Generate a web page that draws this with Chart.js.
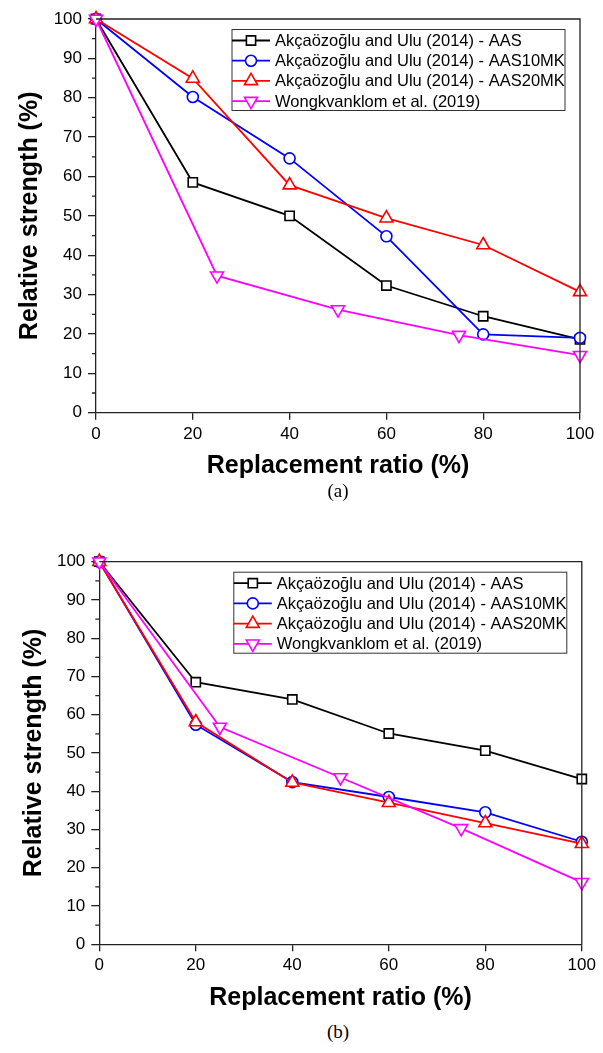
<!DOCTYPE html>
<html>
<head>
<meta charset="utf-8">
<script src="https://cdn.jsdelivr.net/npm/chart.js@4.4.1/dist/chart.umd.min.js"></script>
<style>
  body { margin:0; width:603px; height:1053px; position:relative; background:#fff; overflow:hidden; }
  canvas { position:absolute; left:0; }
  .cap { position:absolute; left:238px; width:200px; text-align:center; font-family:"Liberation Serif", serif; font-size:19px; line-height:22px; color:#000; }
</style>
</head>
<body>
<canvas id="chartA" width="603" height="482" style="top:0px"></canvas>
<div class="cap" style="top:480px">(a)</div>
<canvas id="chartB" width="603" height="494" style="top:520px"></canvas>
<div class="cap" style="top:1021px">(b)</div>
<script>
// labels
const seriesNames = ["Akçaözoğlu and Ulu (2014) - AAS", "Akçaözoğlu and Ulu (2014) - AAS10MK", "Akçaözoğlu and Ulu (2014) - AAS20MK", "Wongkvanklom et al. (2019)"]
const xTitle = "Replacement ratio (%)"
const yTitle = "Relative strength (%)"

// replacement ratios (x)
const ratioAkc = [0, 20, 40, 60, 80, 100]
const ratioWong = [0, 25, 50, 75, 100]

// (a)
const aAAS = [100, 58.5, 50, 32.3, 24.5, 18.6]
const aAAS10MK = [100, 80.2, 64.6, 44.8, 19.9, 19.0]
const aAAS20MK = [100, 84.9, 57.8, 49.4, 42.6, 30.7]
const aWong = [100, 34.8, 26.2, 19.7, 14.6]

// (b)
const bAAS = [100, 68.5, 64.0, 55.1, 50.6, 43.2]
const bAAS10MK = [100, 57.4, 42.4, 38.5, 34.5, 26.8]
const bAAS20MK = [100, 58.1, 42.3, 37.0, 31.7, 26.3]
const bWong = [100, 56.8, 43.6, 30.3, 16.2]

const axisColor = '#222'

function pts(xs, ys) {
  return xs.map((x, i) => ({x: x, y: ys[i]}))
}

function makeSet(label, data, color, style, radius, rot, order) {
  return {
    label: label, data: data,
    borderColor: color, borderWidth: 1.8,
    pointStyle: style, pointRadius: radius, pointRotation: rot,
    pointBorderColor: color, pointBackgroundColor: '#fff', pointBorderWidth: 1.6,
    showLine: true, clip: false, order: order
  }
}

// frame, minor ticks and legend box
const framePlugin = {
  id: 'frame',
  afterDraw(chart) {
    const ctx = chart.ctx
    const a = chart.chartArea
    const y = chart.scales.y
    ctx.save()
    ctx.strokeStyle = axisColor
    ctx.lineWidth = 1.3
    ctx.beginPath()
    ctx.moveTo(a.left, a.top); ctx.lineTo(a.right, a.top); ctx.lineTo(a.right, a.bottom)
    for (let v = 5; v < 100; v += 10) {
      const py = y.getPixelForValue(v)
      ctx.moveTo(a.left, py); ctx.lineTo(a.left - 4, py)
    }
    ctx.stroke()

    // legend
    const boxW = 333, boxH = 81
    const bx = a.right - 15 - boxW, by = a.top + 10.5
    ctx.lineWidth = 1
    ctx.strokeStyle = '#333'
    ctx.strokeRect(bx, by, boxW, boxH)
    ctx.font = '16.5px "Liberation Sans", Arial, sans-serif'
    ctx.textBaseline = 'middle'
    chart.data.datasets.forEach((ds, i) => {
      const ry = by + 11 + i * 20.2
      ctx.strokeStyle = ds.borderColor
      ctx.lineWidth = 1.8
      ctx.beginPath(); ctx.moveTo(bx, ry); ctx.lineTo(bx + 38, ry); ctx.stroke()
      ctx.fillStyle = '#fff'
      ctx.lineWidth = 1.6
      Chart.helpers.drawPoint(ctx, {pointStyle: ds.pointStyle, radius: ds.pointRadius, rotation: ds.pointRotation, borderWidth: 1.6}, bx + 19, ry)
      ctx.fillStyle = '#000'
      ctx.fillText(ds.label, bx + 43, ry + 1)
    })
    ctx.restore()
  }
}

function drawChart(canvas, sets, pad, yWidth, xHeight, yTitlePad) {
  const ctx = canvas.getContext('2d')
  return new Chart(ctx, {
    type: 'scatter',
    data: {
      datasets: [
        makeSet(seriesNames[0], pts(ratioAkc, sets[0]), '#000000', 'rect', 6.5, 0, 4),
        makeSet(seriesNames[1], pts(ratioAkc, sets[1]), '#0000ff', 'circle', 5.5, 0, 3),
        makeSet(seriesNames[2], pts(ratioAkc, sets[2]), '#ff0000', 'triangle', 7.5, 0, 2),
        makeSet(seriesNames[3], pts(ratioWong, sets[3]), '#ff00ff', 'triangle', 7.5, 180, 1)
      ]
    },
    options: {
      responsive: false, animation: false, devicePixelRatio: 1,
      layout: {padding: pad},
      plugins: {legend: {display: false}, tooltip: {enabled: false}},
      scales: {
        x: {
          type: 'linear', min: 0, max: 100,
          afterFit: s => { s.height = xHeight },
          ticks: {stepSize: 20, color: '#000', padding: 4, font: {family: '"Liberation Sans", Arial', size: 17}},
          grid: {drawOnChartArea: false, tickLength: 7, color: axisColor, lineWidth: 1.3},
          border: {color: axisColor, width: 1.3},
          title: {display: true, text: xTitle, color: '#000', padding: {top: 0, bottom: 1}, font: {family: '"Liberation Sans", Arial', size: 25, weight: 'bold'}}
        },
        y: {
          min: 0, max: 100,
          afterFit: s => { s.width = yWidth },
          ticks: {stepSize: 10, color: '#000', padding: 6, font: {family: '"Liberation Sans", Arial', size: 17}},
          grid: {drawOnChartArea: false, tickLength: 8, color: axisColor, lineWidth: 1.3},
          border: {color: axisColor, width: 1.3},
          title: {display: true, text: yTitle, color: '#000', padding: {top: yTitlePad, bottom: 0}, font: {family: '"Liberation Sans", Arial', size: 25, weight: 'bold'}}
        }
      }
    },
    plugins: [framePlugin]
  })
}

drawChart(document.getElementById('chartA'), [aAAS, aAAS10MK, aAAS20MK, aWong], {top: 19, right: 23, left: 0, bottom: 0}, 96, 69.3, 15)
drawChart(document.getElementById('chartB'), [bAAS, bAAS10MK, bAAS20MK, bWong], {top: 41.7, right: 21.2, left: 0, bottom: 0}, 99.3, 69.7, 19)
</script>
</body>
</html>
